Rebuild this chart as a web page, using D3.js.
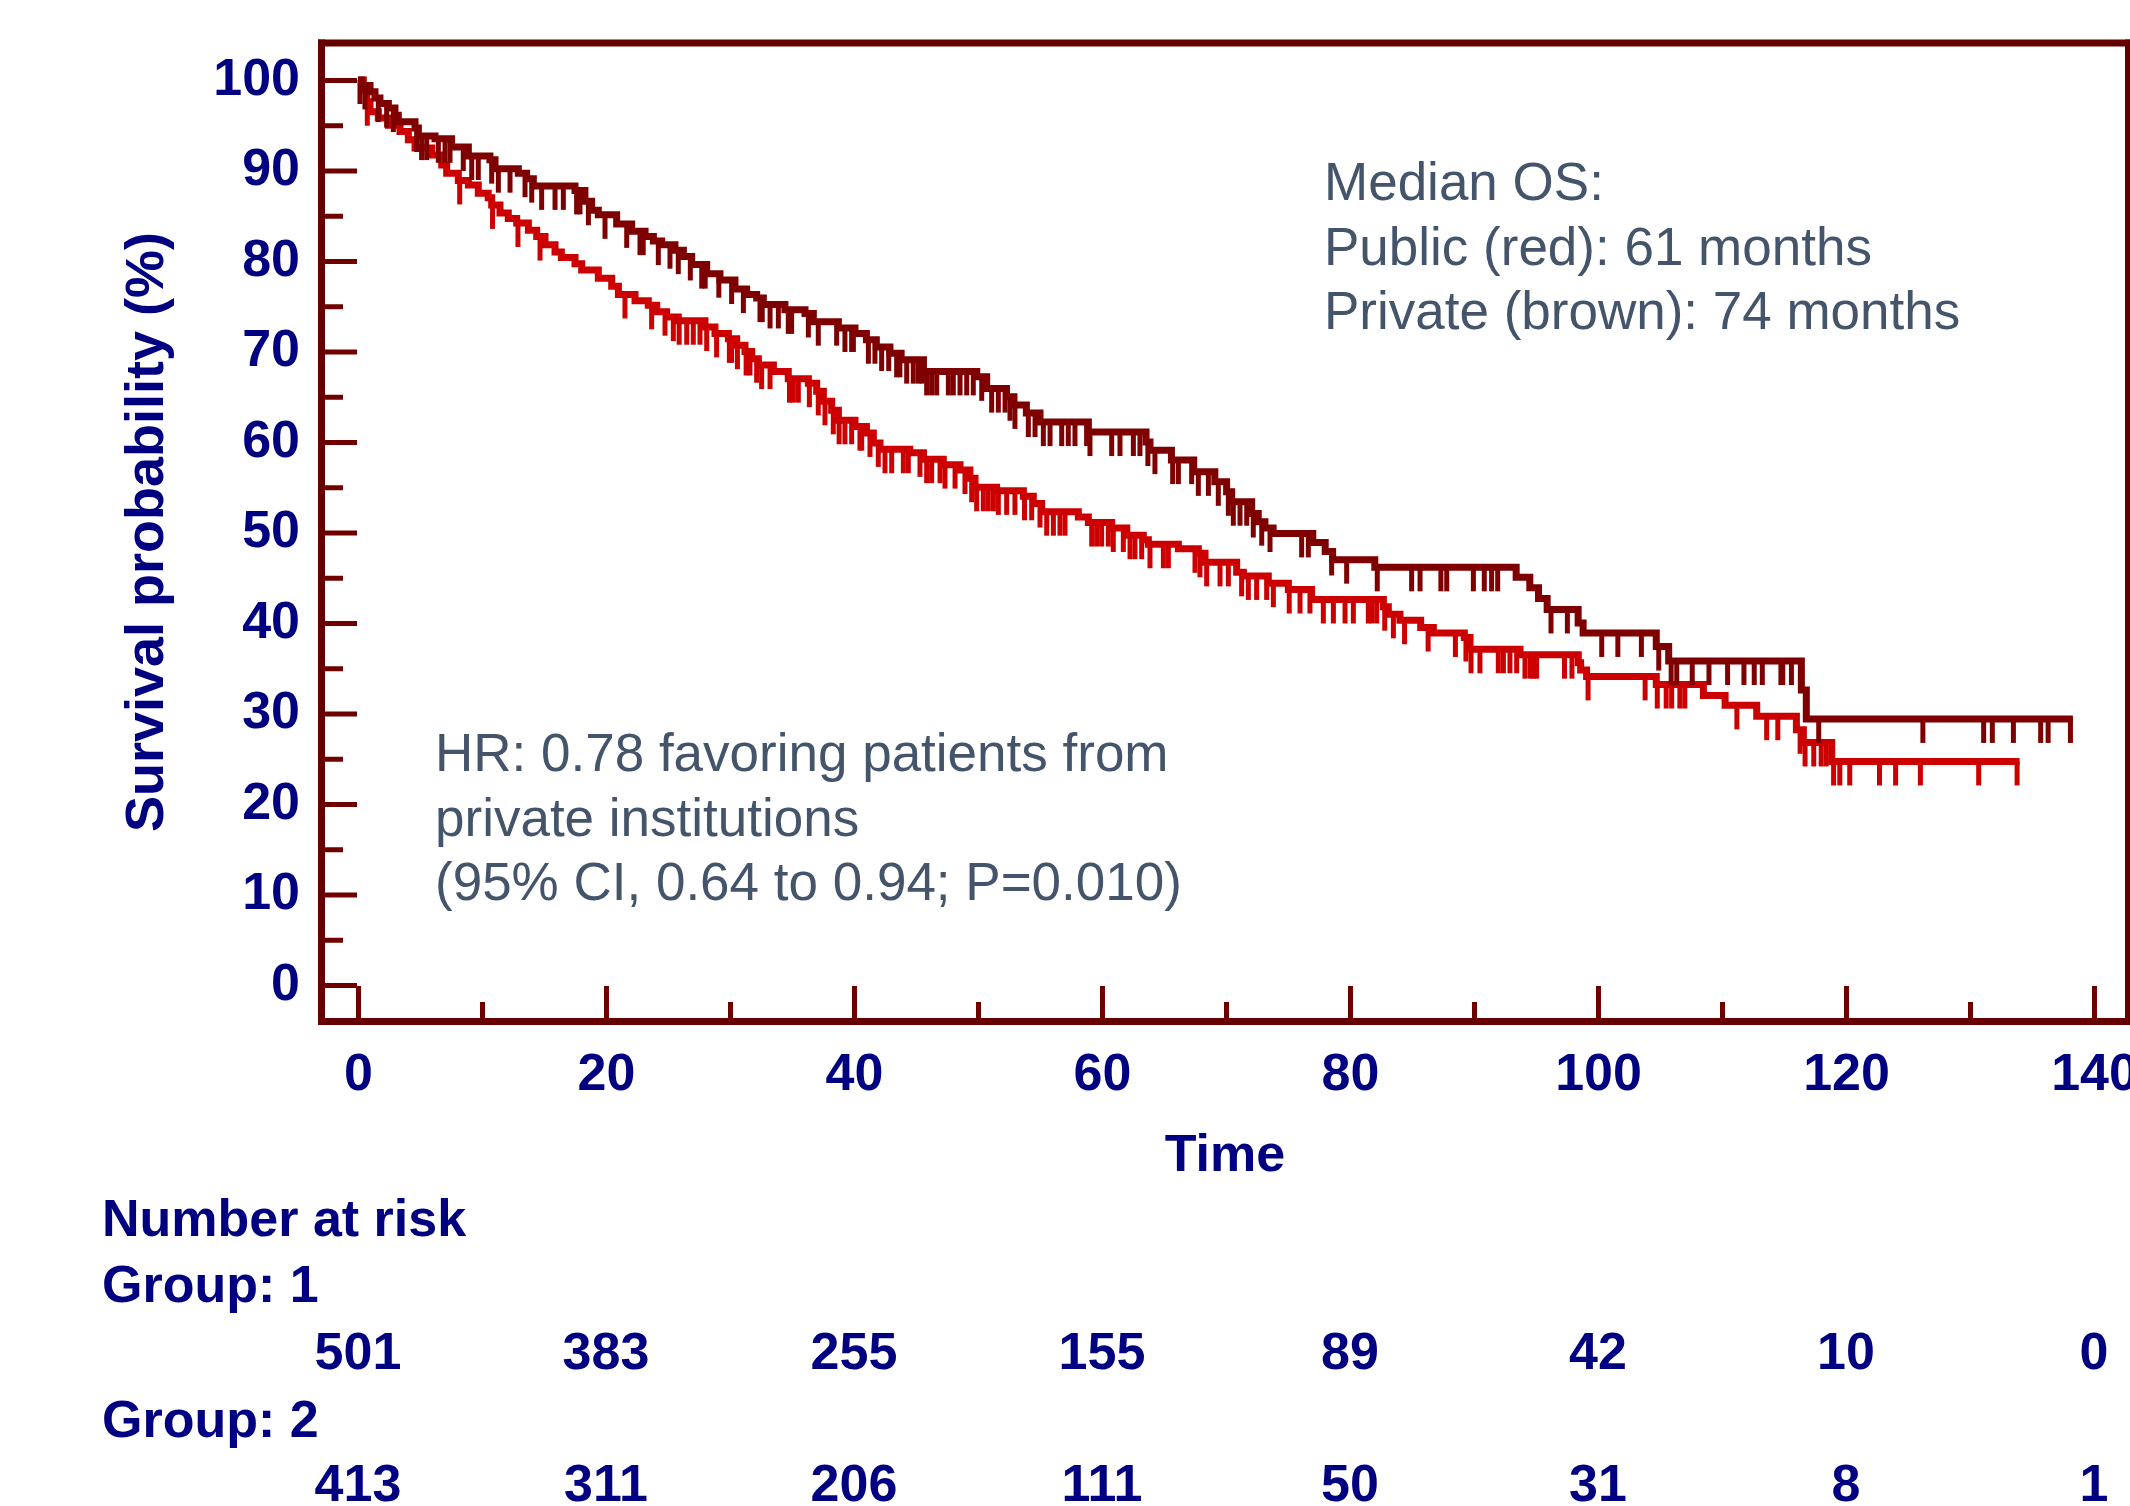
<!DOCTYPE html>
<html>
<head>
<meta charset="utf-8">
<script src="https://cdn.jsdelivr.net/npm/d3@7"></script>
<style>
  html, body { margin: 0; padding: 0; background: #fff; }
  svg { display: block; }
  text { font-family: "Liberation Sans", Arial, sans-serif; }
</style>
</head>
<body>
<div id="chart"></div>
<script>
// Kaplan-Meier overall survival, public vs private institutions.
// Steps are [month, survival % after the drop]; censored = months of censor ticks.

const monthTicks = [0, 20, 40, 60, 80, 100, 120, 140];
const survivalTicks = [0, 10, 20, 30, 40, 50, 60, 70, 80, 90, 100];
const atRiskGroup1 = [501, 383, 255, 155, 89, 42, 10, 0];
const atRiskGroup2 = [413, 311, 206, 111, 50, 31, 8, 1];

const privateSteps = [
  [0, 100], [0.3, 99.4], [0.97, 98.7], [1.37, 98.0], [1.77, 97.4], [2.45, 96.9], [2.98, 96.1],
  [3.25, 95.4], [4.6, 94.7], [4.87, 93.8], [6.21, 93.5], [7.55, 92.6], [8.9, 91.6], [10.64, 91.2],
  [11.05, 90.2], [12.93, 89.7], [13.6, 89.1], [14.14, 88.3], [17.5, 87.8], [18.3, 86.6], [18.84, 85.6],
  [19.38, 85.1], [20.86, 84.1], [22.07, 83.3], [23.15, 82.7], [23.82, 82.2], [24.49, 81.8], [25.56, 81.2],
  [26.24, 80.5], [26.91, 79.6], [28.12, 78.6], [29.19, 77.9], [30.4, 76.9], [31.34, 76.3], [32.15, 75.9],
  [32.69, 75.2], [34.43, 74.6], [36.05, 74.2], [36.72, 73.3], [38.74, 72.6], [40.08, 72.0], [41.0, 71.3],
  [41.8, 70.5], [42.9, 69.8], [43.8, 69.1], [45.6, 67.8], [49.9, 67.2], [50.7, 65.9], [52.3, 65.0],
  [52.9, 64.1], [53.9, 63.2], [55.0, 62.2], [58.9, 61.1], [63.55, 60.0], [63.87, 59.1], [65.6, 58.0],
  [67.4, 56.7], [69.1, 55.6], [70.05, 54.5], [70.46, 53.4], [72.07, 52.1], [72.6, 51.2], [73.14, 50.5],
  [73.8, 49.9], [77.0, 48.9], [78.0, 47.9], [78.6, 47.0], [82.0, 46.15], [93.4, 45.05], [94.5, 43.9],
  [95.2, 42.7], [95.9, 41.5], [98.4, 40.0], [98.8, 38.9], [104.7, 37.4], [105.7, 35.8], [116.4, 32.6],
  [116.8, 29.4]
];
const privateEnd = 138.3;
const privateCensored = [
  0.16, 0.56, 1.64, 2.31, 2.85, 4.73, 5.13, 5.54, 6.48, 7.02, 7.42, 8.49, 9.17, 9.7, 10.78, 11.32,
  12.26, 13.47, 14.01, 14.81, 15.89, 16.56, 17.63, 17.9, 18.58, 19.92, 21.67, 22.74, 23.0, 24.22,
  25.16, 25.83, 26.8, 27.72, 28.0, 29.1, 30.13, 31.08, 32.42, 32.6, 33.23, 33.9, 34.7, 34.97, 36.32,
  37.12, 38.6, 39.27, 39.81, 39.95, 41.16, 41.69, 42.23, 42.8, 43.44, 43.7, 44.25, 44.78, 45.19, 45.5,
  45.86, 46.26, 46.67, 47.61, 48.01, 48.55, 49.09, 49.62, 50.3, 51.1, 51.64, 52.18, 52.58, 52.98,
  54.06, 54.6, 55.27, 55.81, 56.75, 57.28, 57.82, 58.76, 59.03, 60.78, 61.45, 62.53, 63.06, 63.7,
  64.27, 65.7, 66.16, 67.23, 67.77, 68.58, 69.38, 70.19, 70.59, 71.13, 71.67, 72.2, 72.88, 73.55,
  76.1, 76.64, 78.52, 79.73, 82.2, 84.97, 85.65, 87.33, 87.8, 89.95, 90.83, 91.42, 91.91, 96.21,
  97.53, 100.3, 101.6, 103.5, 104.9, 105.9, 106.35, 107.6, 108.95, 110.45, 111.77, 112.6, 113.25,
  114.75, 114.9, 115.6, 117.8, 126.2, 131.1, 131.8, 133.5, 135.7, 136.3, 138.1
];

const publicSteps = [
  [0, 100], [0.43, 98.8], [0.7, 97.6], [0.97, 96.5], [1.64, 95.8], [2.45, 95.0], [3.39, 94.3],
  [4.06, 93.4], [4.6, 92.5], [5.94, 91.7], [6.75, 90.6], [7.15, 89.7], [8.09, 88.9], [8.9, 88.4],
  [9.7, 87.5], [10.5, 87.0], [10.78, 86.2], [11.45, 85.3], [12.12, 84.7], [12.8, 84.2], [13.74, 83.4],
  [14.41, 82.7], [15.08, 81.8], [15.89, 81.0], [16.4, 80.4], [17.5, 79.7], [18.04, 79.0], [19.38, 78.1],
  [20.46, 77.2], [21.0, 76.3], [22.34, 75.6], [23.41, 75.1], [24.09, 74.4], [24.89, 73.8], [25.83, 73.4],
  [27.98, 72.7], [28.79, 72.0], [29.87, 71.4], [30.54, 70.7], [31.21, 70.0], [31.75, 69.2], [32.29, 68.5],
  [33.5, 67.8], [34.7, 67.0], [36.32, 66.5], [36.99, 65.6], [37.53, 64.5], [38.2, 63.5], [38.74, 62.4],
  [40.08, 61.7], [41.0, 61.0], [41.56, 59.9], [42.1, 59.2], [44.5, 58.8], [45.6, 58.1], [47.2, 57.5],
  [48.55, 56.9], [49.35, 56.0], [49.76, 55.0], [51.5, 54.6], [53.66, 54.0], [54.46, 53.2], [55.13, 52.3],
  [58.09, 51.7], [58.9, 51.1], [60.78, 50.5], [62.0, 49.7], [63.33, 49.2], [63.74, 48.7], [66.16, 48.2],
  [67.77, 47.7], [68.31, 46.7], [70.86, 45.6], [71.4, 45.2], [73.41, 44.4], [75.03, 43.7], [76.9, 42.6],
  [82.69, 41.8], [83.09, 40.96], [84.03, 40.3], [85.7, 39.5], [86.72, 38.9], [89.22, 38.4], [89.68, 37.1],
  [93.71, 36.5], [98.41, 35.6], [98.6, 34.8], [99.08, 34.1], [104.7, 33.2], [108.5, 32.0], [110.25, 30.9],
  [112.8, 29.7], [116.0, 28.2], [116.56, 26.8], [118.85, 24.7]
];
const publicEnd = 134.0;
const publicCensored = [
  0.75, 8.2, 10.85, 12.9, 14.68, 21.53, 23.68, 24.76, 25.43, 25.9, 26.51, 27.04, 27.58, 28.12, 28.92,
  29.95, 30.13, 30.6, 31.3, 31.61, 32.15, 32.55, 33.23, 34.8, 35.11, 35.51, 36.4, 37.12, 37.66, 38.33,
  38.8, 39.27, 39.81, 40.48, 40.62, 41.29, 41.96, 42.5, 43.04, 43.98, 44.38, 45.32, 45.86, 46.26,
  46.94, 47.34, 48.15, 48.95, 49.49, 49.89, 50.43, 50.83, 51.24, 51.64, 52.31, 52.98, 53.75, 54.33,
  55.0, 55.54, 56.08, 56.61, 57.02, 59.17, 59.57, 59.97, 60.51, 60.91, 61.72, 62.26, 62.66, 63.2,
  63.87, 64.95, 65.35, 67.5, 67.9, 68.44, 69.52, 70.19, 71.26, 71.8, 72.47, 73.28, 73.82, 75.1,
  75.97, 76.77, 77.85, 78.66, 79.6, 80.27, 81.48, 81.75, 82.15, 82.8, 83.5, 84.4, 86.3, 88.5, 89.35,
  89.76, 90.48, 91.96, 92.37, 92.9, 93.44, 94.11, 94.52, 94.78, 95.05, 97.3, 97.9, 99.2, 103.8,
  104.78, 105.5, 105.94, 106.6, 107.0, 111.2, 113.6, 114.5, 116.3, 116.7, 117.4, 118.0, 118.4, 119,
  119.5, 120.3, 122.7, 124, 126, 130.7, 133.8
];

const medianLines = ['Median OS:', 'Public (red): 61 months', 'Private (brown): 74 months'];
const hrLines = ['HR: 0.78 favoring patients from', 'private institutions', '(95% CI, 0.64 to 0.94; P=0.010)'];

const W = 2130, H = 1506;
const FRAME = '#660000', TICK = '#6e0000', NAVY = '#000080', NOTE = '#44546a';
const RED = '#cc0000', BROWN = '#7f0000';

const x = d3.scaleLinear().domain([0, 140]).range([358, 2094]);
const y = d3.scaleLinear().domain([0, 100]).range([985, 80]);

const svg = d3.select('#chart').append('svg')
  .attr('width', W).attr('height', H).attr('viewBox', [0, 0, W, H]);
svg.append('rect').attr('width', W).attr('height', H).attr('fill', '#fff');

// ---- inward ticks ----
function styleTicks(sel) {
  sel.select('.domain').remove();
  sel.selectAll('line').attr('stroke', TICK).attr('stroke-width', 5);
}
svg.append('g').attr('transform', 'translate(325,0)')
  .call(d3.axisRight(y).tickValues(survivalTicks).tickSize(32).tickFormat(''))
  .call(styleTicks);
svg.append('g').attr('transform', 'translate(325,0)')
  .call(d3.axisRight(y).tickValues(d3.range(5, 100, 10)).tickSize(18).tickFormat(''))
  .call(styleTicks);
svg.append('g').attr('transform', 'translate(0,1018)')
  .call(d3.axisTop(x).tickValues(monthTicks).tickSize(32).tickFormat(''))
  .call(styleTicks);
svg.append('g').attr('transform', 'translate(0,1018)')
  .call(d3.axisTop(x).tickValues(d3.range(10, 140, 20)).tickSize(16).tickFormat(''))
  .call(styleTicks);

// ---- frame ----
const frame = svg.append('g').attr('stroke', FRAME).attr('fill', 'none');
frame.append('line').attr('x1', 318).attr('x2', 2130).attr('y1', 43).attr('y2', 43).attr('stroke-width', 7);
frame.append('line').attr('x1', 321.5).attr('x2', 321.5).attr('y1', 39.5).attr('y2', 1025).attr('stroke-width', 7);
frame.append('line').attr('x1', 318).attr('x2', 2130).attr('y1', 1021.5).attr('y2', 1021.5).attr('stroke-width', 7);
frame.append('line').attr('x1', 2127.5).attr('x2', 2127.5).attr('y1', 39.5).attr('y2', 1025).attr('stroke-width', 5);

// ---- survival curves ----
const stepLine = d3.line().x(d => x(d[0])).y(d => y(d[1])).curve(d3.curveStepAfter);

function levelAt(steps, t) {
  let v = steps[0][1];
  for (const s of steps) { if (s[0] <= t) v = s[1]; else break; }
  return v;
}

function drawCurve(steps, end, censored, colour) {
  const pts = steps.concat([[end, steps[steps.length - 1][1]]]);
  const g = svg.append('g');
  g.append('path').attr('d', stepLine(pts))
    .attr('fill', 'none').attr('stroke', colour).attr('stroke-width', 7)
    .attr('stroke-linejoin', 'miter');
  g.selectAll('line').data(censored).join('line')
    .attr('x1', d => x(d)).attr('x2', d => x(d))
    .attr('y1', d => y(levelAt(steps, d)))
    .attr('y2', d => y(levelAt(steps, d)) + 24)
    .attr('stroke', colour).attr('stroke-width', 5);
}
drawCurve(publicSteps, publicEnd, publicCensored, RED);
drawCurve(privateSteps, privateEnd, privateCensored, BROWN);

// ---- axis labels ----
const yLab = svg.append('g').attr('transform', 'translate(300,0)')
  .call(d3.axisLeft(y).tickValues(survivalTicks).tickSize(0).tickPadding(0));
yLab.select('.domain').remove();
yLab.selectAll('text').attr('dy', '0.27em').attr('fill', NAVY)
  .style('font-size', '52px').style('font-weight', 'bold')
  .style('font-family', '"Liberation Sans", Arial, sans-serif');

const xLab = svg.append('g').attr('transform', 'translate(0,1090)')
  .call(d3.axisBottom(x).tickValues(monthTicks).tickSize(0).tickPadding(0));
xLab.select('.domain').remove();
xLab.selectAll('text').attr('y', 0).attr('dy', 0).attr('fill', NAVY)
  .style('font-size', '52px').style('font-weight', 'bold')
  .style('font-family', '"Liberation Sans", Arial, sans-serif');

const bold = sel => sel.attr('fill', NAVY).style('font-size', '52px').style('font-weight', 'bold');

svg.append('text').attr('x', 1225).attr('y', 1171).attr('text-anchor', 'middle').text('Time').call(bold);
svg.append('text').attr('transform', 'translate(163,532) rotate(-90)')
  .attr('text-anchor', 'middle').text('Survival probability (%)').call(bold)
  .style('font-size', '54px');

// ---- number at risk ----
svg.append('text').attr('x', 102).attr('y', 1236).text('Number at risk').call(bold);
svg.append('text').attr('x', 102).attr('y', 1302).text('Group: 1').call(bold);
svg.append('text').attr('x', 102).attr('y', 1437).text('Group: 2').call(bold);
svg.append('g').selectAll('text').data(atRiskGroup1).join('text')
  .attr('x', (d, i) => x(monthTicks[i])).attr('y', 1369).attr('text-anchor', 'middle')
  .text(d => d).call(bold);
svg.append('g').selectAll('text').data(atRiskGroup2).join('text')
  .attr('x', (d, i) => x(monthTicks[i])).attr('y', 1501).attr('text-anchor', 'middle')
  .text(d => d).call(bold);

// ---- annotations ----
function note(lines, x0, y0) {
  svg.append('g').selectAll('text').data(lines).join('text')
    .attr('x', x0).attr('y', (d, i) => y0 + i * 64.5)
    .attr('fill', NOTE).style('font-size', '53px')
    .text(d => d);
}
note(medianLines, 1324, 200);
note(hrLines, 435, 771);
</script>
</body>
</html>
